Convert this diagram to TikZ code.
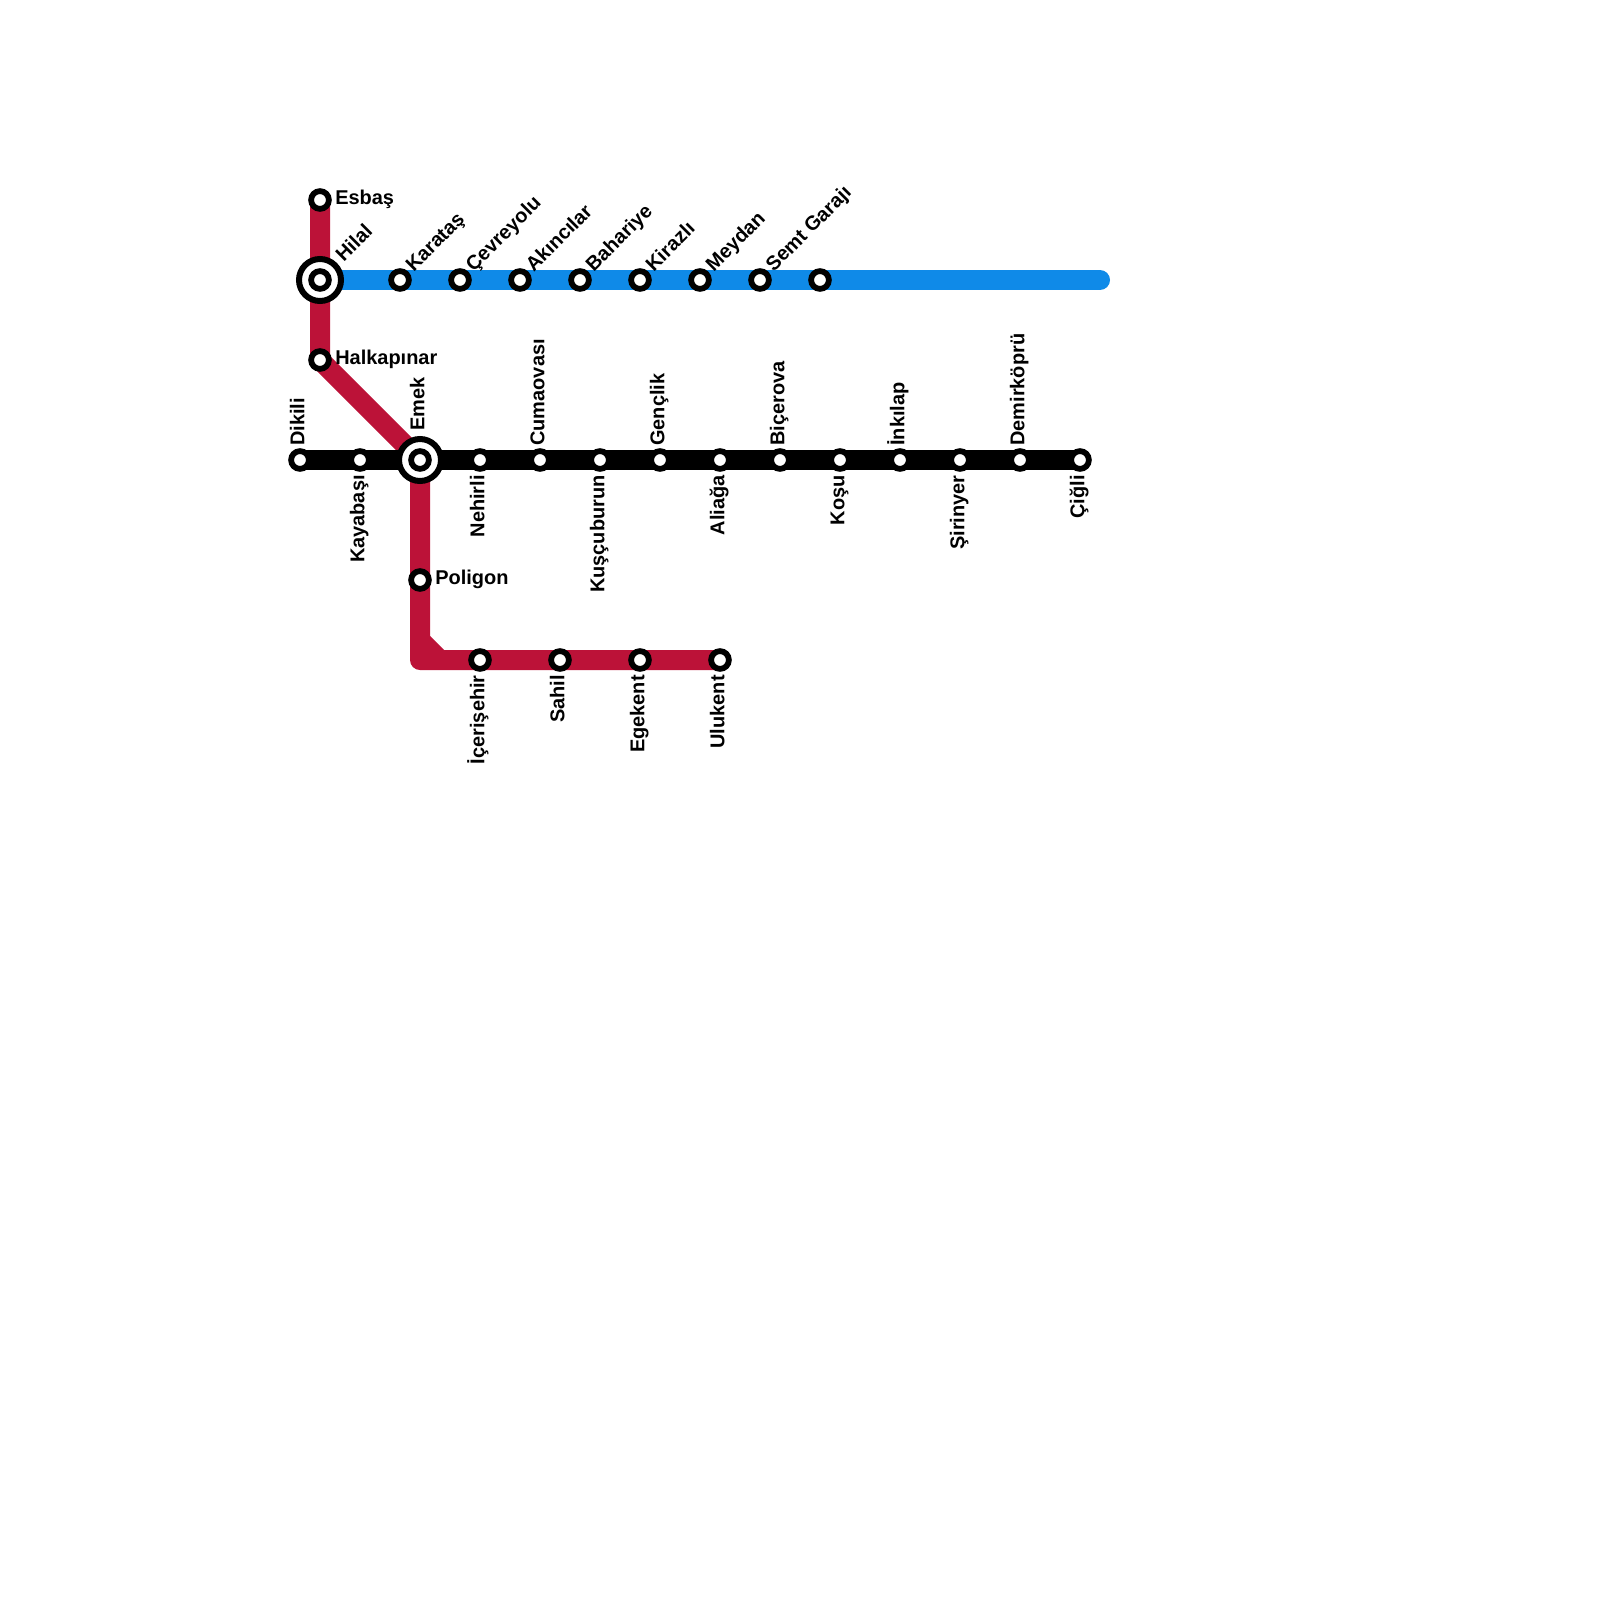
\documentclass[tikz,border=0pt]{standalone}
\usepackage{fontspec}
\setmainfont{Liberation Sans}
\usetikzlibrary{backgrounds}
\definecolor{redline}{HTML}{BC1238}
\definecolor{blueline}{HTML}{0F8AE8}

\begin{document}
\begin{tikzpicture}[x=0.5cm,y=-0.5cm,font=\bfseries\fontsize{14.2}{16}\selectfont]
\tikzset{
  station/.style={circle, fill=white, draw=black, line width=0.144cm, inner sep=0pt,
    minimum size=0.444cm},
  hub/.style={circle, fill=white, draw=black, line width=0.15cm, inner sep=0pt,
    minimum size=1.05cm},
  lab/.style={inner sep=0pt, text=black},
  labside/.style={lab, anchor=base west},
  labdiag/.style={lab, anchor=base west, rotate=45},
  labup/.style={lab, anchor=base west, rotate=90},
  labdown/.style={lab, anchor=base east, rotate=90},
  metro/.style={line width=0.5cm, line cap=round, line join=round},
}
\useasboundingbox (0,0) rectangle (80,80);

% ---- interchanges ----
\node[hub] (hilalring) at (16,14) {};
\node[station] (hilal) at (16,14) {};
\node[labdiag] (hilallab) at (17.18,13.13) {Hilal};
\node[hub] (emekring) at (21,23) {};
\node[station] (emek) at (21,23) {};
\node[labup] (emeklab) at (21.22,21.55) {Emek};

% ---- blue line stations ----
\foreach \x/\nm/\txt in {20/karatas/Karataş, 23/cevreyolu/Çevreyolu, 26/akincilar/Akıncılar,
    29/bahariye/Bahariye, 32/kirazli/Kirazlı, 35/meydan/Meydan, 38/semtgaraji/Semt Garajı}{
  \node[station] (\nm) at (\x,14) {};
  \node[labdiag] (\nm lab) at (\x+0.68,13.63) {\txt};
}
\node[station] (blueterm) at (41,14) {};
\coordinate (blueend) at (55,14);

% ---- black line stations ----
\foreach \x/\nm/\txt in {15/dikili/Dikili, 27/cumaovasi/Cumaovası, 33/genclik/Gençlik,
    39/bicerova/Biçerova, 45/inkilap/İnkılap, 51/demirkopru/Demirköprü}{
  \node[station] (\nm) at (\x,23) {};
  \node[labup] (\nm lab) at (\x+0.22,22.3) {\txt};
}
\foreach \x/\nm/\txt in {18/kayabasi/Kayabaşı, 24/nehirli/Nehirli, 30/kuscuburun/Kuşçuburun,
    36/aliaga/Aliağa, 42/kosu/Koşu, 48/sirinyer/Şirinyer, 54/cigli/Çiğli}{
  \node[station] (\nm) at (\x,23) {};
  \node[labdown] (\nm lab) at (\x+0.22,23.75) {\txt};
}

% ---- red line stations ----
\foreach \y/\nm/\txt in {10/esbas/Esbaş, 18/halkapinar/Halkapınar, 29/poligon/Poligon}{
  \pgfmathsetmacro{\xs}{\y==29 ? 21 : 16}
  \node[station] (\nm) at (\xs,\y) {};
  \node[labside] (\nm lab) at (\xs+0.75,\y+0.2) {\txt};
}
\foreach \x/\nm/\txt in {24/icerisehir/İçerişehir, 28/sahil/Sahil, 32/egekent/Egekent, 36/ulukent/Ulukent}{
  \node[station] (\nm) at (\x,33) {};
  \node[labdown] (\nm lab) at (\x+0.22,33.75) {\txt};
}
\coordinate (redcorner) at (21,33);
\coordinate (redchamfer) at (21,32);
\coordinate (redchamferend) at (22,33);

% ---- the lines, behind the stations ----
\begin{scope}[on background layer]
  \draw[metro, redline] (esbas.center) -- (halkapinar.center) -- (emek.center)
    -- (poligon.center) -- (redcorner) -- (ulukent.center);
  \draw[metro, redline, line cap=butt] (redchamfer) -- (redchamferend);
  \draw[metro, black] (dikili.center) -- (cigli.center);
  \draw[metro, blueline] (hilal.center) -- (blueend);
\end{scope}
\end{tikzpicture}
\end{document}
